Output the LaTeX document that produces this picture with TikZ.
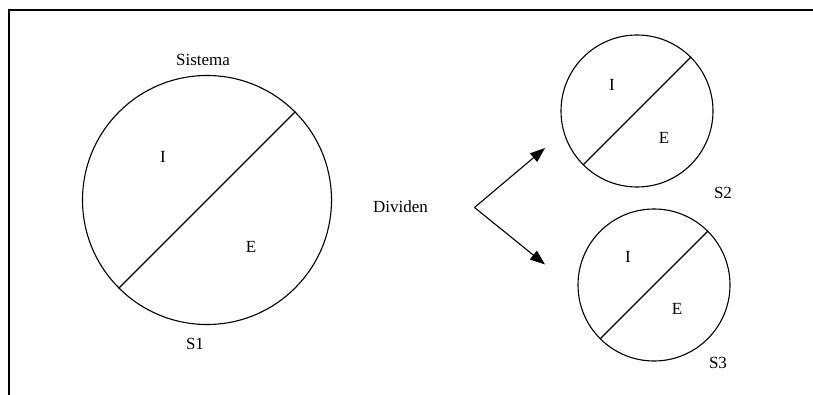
\documentclass[tikz,border=0pt]{standalone}
\usepackage{fontspec}
\setmainfont{Liberation Serif}
\usetikzlibrary{arrows.meta}
\begin{document}
\begin{tikzpicture}[x=1pt,y=-1pt,
  sys/.style={circle,draw,line width=1.1pt,inner sep=0pt},
  lbl/.style={font=\fontsize{17}{20}\selectfont,inner sep=0pt},
  chord/.style={line width=1.1pt},
  arr/.style={line width=1.1pt,-{Triangle[length=15pt,width=11pt]}}]
\useasboundingbox (0,0) rectangle (813,395);
\draw[line width=2pt] (8.7,395) -- (8.7,10.5) -- (813,10.5);
% S1
\node[sys,minimum size=249pt] (s1) at (207,200) {};
\draw[chord] (s1.45) -- (s1.225);
\node[lbl] (sistema) at (203,60) {Sistema};
\node[lbl] (i1) at (163,157) {I};
\node[lbl] (e1) at (251,247) {E};
\node[lbl] (n1) at (195,344) {S1};
% S2
\node[sys,minimum size=152pt] (s2) at (637,111) {};
\draw[chord] (s2.45) -- (s2.225);
\node[lbl] (i2) at (612,85) {I};
\node[lbl] (e2) at (664,138) {E};
\node[lbl] (n2) at (723,193) {S2};
% S3
\node[sys,minimum size=152pt] (s3) at (654,285) {};
\draw[chord] (s3.45) -- (s3.225);
\node[lbl] (i3) at (628,257) {I};
\node[lbl] (e3) at (677,309) {E};
\node[lbl] (n3) at (718,363) {S3};
% Dividen
\node[lbl] (div) at (400.5,207) {Dividen};
\coordinate (v) at (474.5,207.5);
\coordinate (t2) at (545,148);
\coordinate (t3) at (545,264.5);
\draw[arr] (v) -- (t2);
\draw[arr] (v) -- (t3);
\end{tikzpicture}
\end{document}
